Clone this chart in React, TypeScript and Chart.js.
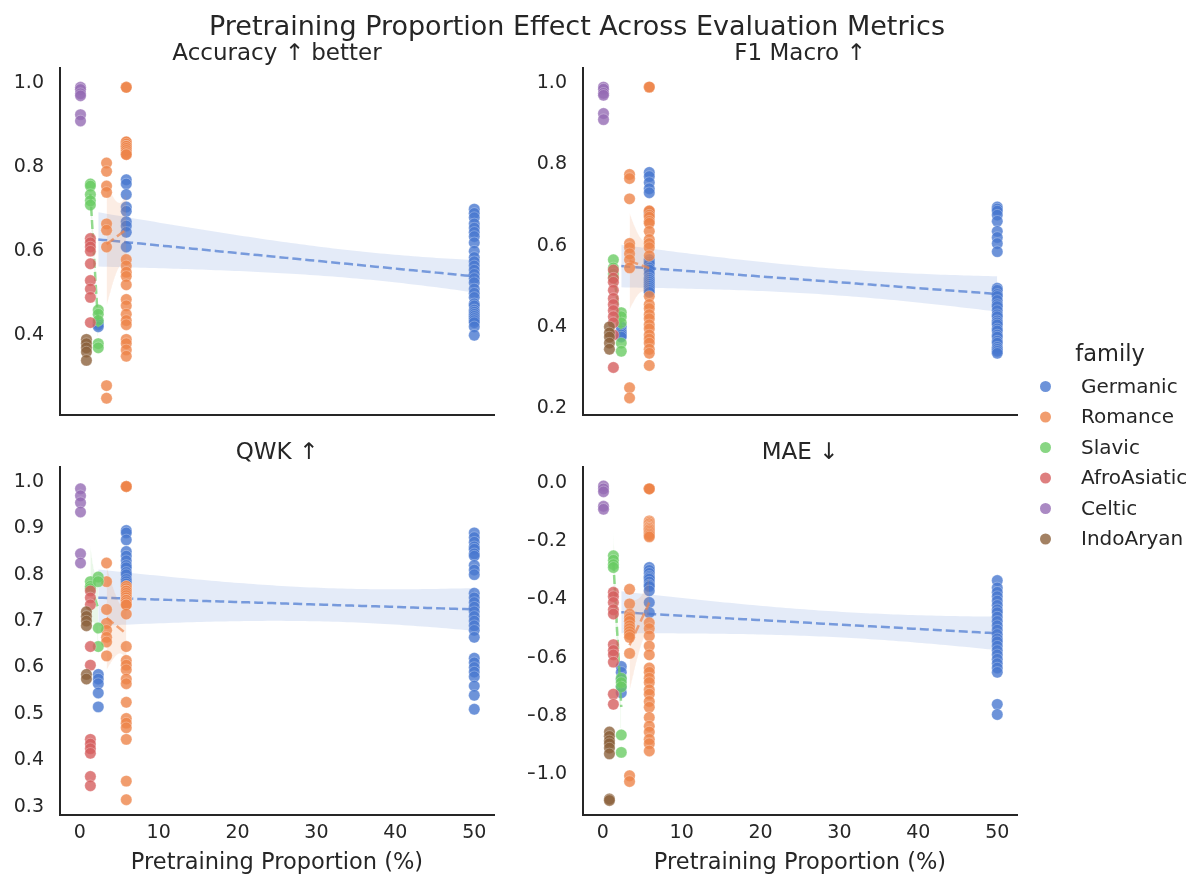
import React, { useEffect, useRef } from "react";
import { Chart, registerables } from "chart.js";

Chart.register(...registerables);

const W = 1197;
const H = 877;
const FONT = "'DejaVu Sans', 'Liberation Sans', sans-serif";
const INK = "#262626";

// ---------------- data ----------------
const families = ["Germanic", "Romance", "Slavic", "AfroAsiatic", "Celtic", "IndoAryan"];
const familyColors = ["#4878d0", "#ee854a", "#6acc64", "#d65f5f", "#956cb4", "#8c613c"];

// pretraining proportion (%) of each group of points, per family
const pctGermanic = [2.35, 5.9, 50];
const pctRomance = [3.4, 5.9];
const pctSlavic = [1.35, 2.35];
const pctAfroAsiatic = [1.35];
const pctCeltic = [0.1];
const pctIndoAryan = [0.85];

const xTicks = [0, 10, 20, 30, 40, 50];
const accTicks = [0.4, 0.6, 0.8, 1.0];
const f1Ticks = [0.2, 0.4, 0.6, 0.8, 1.0];
const qwkTicks = [0.3, 0.4, 0.5, 0.6, 0.7, 0.8, 0.9, 1.0];
const maeTicks = [-1.0, -0.8, -0.6, -0.4, -0.2, 0.0];

// Accuracy (one list of values per pretraining-proportion group)
const accGermanic = [
  [0.43, 0.425, 0.42],
  [0.77, 0.76, 0.735, 0.705, 0.695, 0.67, 0.66, 0.645, 0.61],
  [0.70, 0.69, 0.68, 0.665, 0.655, 0.645, 0.635, 0.62, 0.60, 0.585, 0.575, 0.565, 0.555, 0.545, 0.535, 0.525, 0.51, 0.50, 0.49, 0.475, 0.47, 0.46, 0.455, 0.45, 0.445, 0.44, 0.435, 0.43, 0.42, 0.40],
];
const accRomance = [
  [0.81, 0.79, 0.755, 0.74, 0.665, 0.65, 0.61, 0.28, 0.25],
  [0.99, 0.99, 0.86, 0.86, 0.855, 0.85, 0.85, 0.845, 0.84, 0.835, 0.83, 0.83, 0.58, 0.565, 0.55, 0.54, 0.52, 0.485, 0.47, 0.45, 0.435, 0.425, 0.39, 0.38, 0.365, 0.35],
];
const accSlavic = [
  [0.76, 0.755, 0.735, 0.72, 0.71],
  [0.46, 0.45, 0.435, 0.38, 0.37],
];
const accAfroAsiatic = [[0.63, 0.62, 0.61, 0.60, 0.57, 0.53, 0.51, 0.49, 0.43]];
const accCeltic = [[0.99, 0.985, 0.975, 0.97, 0.925, 0.91]];
const accIndoAryan = [[0.39, 0.38, 0.37, 0.36, 0.34]];

// F1 Macro
const f1Germanic = [
  [0.40, 0.39, 0.385, 0.38, 0.375],
  [0.78, 0.77, 0.755, 0.74, 0.73, 0.68, 0.565, 0.56, 0.555, 0.545, 0.54, 0.53, 0.52, 0.515, 0.51, 0.505, 0.50, 0.495, 0.49, 0.485],
  [0.695, 0.69, 0.685, 0.675, 0.66, 0.635, 0.62, 0.605, 0.585,
   0.495, 0.49, 0.48, 0.475, 0.465, 0.455, 0.45, 0.44, 0.43, 0.425, 0.415, 0.41, 0.405, 0.395, 0.39, 0.38, 0.375, 0.365, 0.36, 0.35, 0.345, 0.34, 0.335],
];
const f1Romance = [
  [0.775, 0.765, 0.715, 0.605, 0.595, 0.58, 0.565, 0.545, 0.25, 0.225],
  [0.99, 0.99, 0.685, 0.685, 0.675, 0.67, 0.66, 0.655, 0.635, 0.615, 0.605, 0.595, 0.575, 0.475, 0.455, 0.445, 0.43, 0.42, 0.405, 0.395, 0.38, 0.37, 0.36, 0.345, 0.335, 0.305],
];
const f1Slavic = [
  [0.565, 0.545, 0.53, 0.52],
  [0.435, 0.425, 0.41, 0.36, 0.34],
];
const f1AfroAsiatic = [[0.54, 0.52, 0.51, 0.49, 0.47, 0.455, 0.44, 0.425, 0.41, 0.38, 0.30]];
const f1Celtic = [[0.99, 0.985, 0.975, 0.97, 0.925, 0.91]];
const f1IndoAryan = [[0.40, 0.385, 0.375, 0.36, 0.345]];

// QWK
const qwkGermanic = [
  [0.585, 0.575, 0.565, 0.545, 0.515],
  [0.895, 0.89, 0.875, 0.85, 0.84, 0.83, 0.82, 0.815, 0.805, 0.80, 0.79, 0.785, 0.78],
  [0.89, 0.88, 0.87, 0.86, 0.855, 0.845, 0.84, 0.82, 0.81, 0.80, 0.76, 0.75, 0.74, 0.73, 0.72, 0.71, 0.70, 0.69, 0.68, 0.665, 0.62, 0.61, 0.60, 0.59, 0.58, 0.56, 0.54, 0.51],
];
const qwkRomance = [
  [0.825, 0.785, 0.725, 0.695, 0.68, 0.665, 0.655, 0.625],
  [0.99, 0.99, 0.99, 0.775, 0.775, 0.77, 0.765, 0.765, 0.76, 0.755, 0.75, 0.745, 0.745, 0.74, 0.735, 0.735, 0.715, 0.645, 0.615, 0.605, 0.595, 0.575, 0.565, 0.525, 0.49, 0.48, 0.47, 0.445, 0.355, 0.315],
];
const qwkSlavic = [
  [0.785, 0.775, 0.77],
  [0.795, 0.785, 0.685, 0.645],
];
const qwkAfroAsiatic = [[0.765, 0.75, 0.735, 0.645, 0.605, 0.445, 0.435, 0.425, 0.415, 0.365, 0.345]];
const qwkCeltic = [[0.985, 0.97, 0.955, 0.935, 0.845, 0.825]];
const qwkIndoAryan = [[0.72, 0.71, 0.70, 0.69, 0.585, 0.575]];

// MAE
const maeGermanic = [
  [-0.63, -0.65, -0.675, -0.70, -0.72],
  [-0.29, -0.30, -0.31, -0.32, -0.325, -0.33, -0.34, -0.35, -0.355, -0.37, -0.41, -0.445],
  [-0.335, -0.36, -0.375, -0.39, -0.405, -0.42, -0.435, -0.445, -0.46, -0.475, -0.49, -0.505, -0.52, -0.535, -0.545, -0.56, -0.575, -0.59, -0.605, -0.62, -0.635, -0.65, -0.76, -0.795],
];
const maeRomance = [
  [-0.365, -0.415, -0.45, -0.46, -0.465, -0.475, -0.49, -0.50, -0.51, -0.52, -0.53, -0.585, -1.005, -1.025],
  [-0.02, -0.02, -0.02, -0.02, -0.13, -0.135, -0.14, -0.14, -0.145, -0.15, -0.15, -0.155, -0.155, -0.16, -0.16, -0.165, -0.17, -0.175, -0.18, -0.185,
   -0.48, -0.50, -0.525, -0.56, -0.59, -0.635, -0.65, -0.67, -0.685, -0.71, -0.725, -0.75, -0.77, -0.805, -0.835, -0.855, -0.88, -0.895, -0.92],
];
const maeSlavic = [
  [-0.25, -0.265, -0.28, -0.29],
  [-0.67, -0.685, -0.70, -0.865, -0.925],
];
const maeAfroAsiatic = [[-0.375, -0.39, -0.41, -0.435, -0.45, -0.555, -0.575, -0.59, -0.615, -0.725, -0.76]];
const maeCeltic = [[-0.01, -0.02, -0.03, -0.08, -0.09]];
const maeIndoAryan = [[-0.855, -0.87, -0.885, -0.895, -0.91, -0.93, -1.085, -1.09]];

const familyPct = [pctGermanic, pctRomance, pctSlavic, pctAfroAsiatic, pctCeltic, pctIndoAryan];

// ---------------- helpers ----------------
function rgba(hex: string, a: number) {
  const n = parseInt(hex.slice(1), 16);
  return `rgba(${(n >> 16) & 255},${(n >> 8) & 255},${n & 255},${a})`;
}

const tTable = [12.71, 4.3, 3.18, 2.78, 2.57, 2.45, 2.36, 2.31, 2.26, 2.23];
function tcrit(df: number) {
  if (df <= 0) return 0;
  if (df <= 10) return tTable[df - 1];
  return 1.96 + 2.4 / df;
}

function regress(pts: { x: number; y: number }[]) {
  const n = pts.length;
  const mx = pts.reduce((s, p) => s + p.x, 0) / n;
  const my = pts.reduce((s, p) => s + p.y, 0) / n;
  let sxx = 0, sxy = 0;
  pts.forEach((p) => { sxx += (p.x - mx) ** 2; sxy += (p.x - mx) * (p.y - my); });
  const b = sxy / sxx;
  const a = my - b * mx;
  let sse = 0;
  pts.forEach((p) => { sse += (p.y - a - b * p.x) ** 2; });
  const df = n - 2;
  const s2 = sse / df;
  const t = tcrit(df);
  const xs = pts.map((p) => p.x);
  const x0 = Math.min(...xs), x1 = Math.max(...xs);
  const line: any[] = [], upper: any[] = [], lower: any[] = [];
  const N = 80;
  for (let i = 0; i <= N; i++) {
    const x = x0 + ((x1 - x0) * i) / N;
    const yh = a + b * x;
    const se = Math.sqrt(s2 * (1 / n + (x - mx) ** 2 / sxx));
    line.push({ x, y: yh });
    upper.push({ x, y: yh + t * se });
    lower.push({ x, y: yh - t * se });
  }
  return { line, upper, lower };
}

function fmt(v: number) {
  const s = Math.abs(v) < 1e-9 ? "0.0" : v.toFixed(1);
  return s.replace("-", "\u2212");
}

type Area = { l: number; r: number; t: number; b: number };
type PanelCfg = {
  title: string;
  yMin: number;
  yMax: number;
  yTicks: number[];
  area: Area;
  showX: boolean;
  groups: number[][][];
  figureText?: boolean;
};

const panels: PanelCfg[] = [
  { title: "Accuracy \u2191 better", yMin: 0.21, yMax: 1.036, yTicks: accTicks, area: { l: 60, r: 494, t: 68, b: 415 }, showX: false,
    groups: [accGermanic, accRomance, accSlavic, accAfroAsiatic, accCeltic, accIndoAryan] },
  { title: "F1 Macro \u2191", yMin: 0.183, yMax: 1.037, yTicks: f1Ticks, area: { l: 583, r: 1017, t: 68, b: 415 }, showX: false,
    groups: [f1Germanic, f1Romance, f1Slavic, f1AfroAsiatic, f1Celtic, f1IndoAryan], figureText: true },
  { title: "QWK \u2191", yMin: 0.282, yMax: 1.032, yTicks: qwkTicks, area: { l: 60, r: 494, t: 467, b: 815 }, showX: true,
    groups: [qwkGermanic, qwkRomance, qwkSlavic, qwkAfroAsiatic, qwkCeltic, qwkIndoAryan] },
  { title: "MAE \u2193", yMin: -1.14, yMax: 0.055, yTicks: maeTicks, area: { l: 583, r: 1017, t: 467, b: 815 }, showX: true,
    groups: [maeGermanic, maeRomance, maeSlavic, maeAfroAsiatic, maeCeltic, maeIndoAryan] },
];

function buildDatasets(cfg: PanelCfg) {
  const seq: any[] = [];
  families.forEach((fam, fi) => {
    const color = familyColors[fi];
    const pcts = familyPct[fi];
    const pts: { x: number; y: number }[] = [];
    cfg.groups[fi].forEach((ys, gi) => ys.forEach((y) => pts.push({ x: pcts[gi], y })));
    seq.push({
      type: "scatter",
      label: fam,
      data: pts,
      pointRadius: 5.7,
      pointHoverRadius: 5.7,
      backgroundColor: rgba(color, 0.8),
      borderColor: "rgba(255,255,255,0.35)",
      borderWidth: 0.8,
    });
    if (pcts.length >= 2) {
      const { line, upper, lower } = regress(pts);
      seq.push({ type: "line", label: fam + " ci", data: upper, showLine: true, fill: "+1", backgroundColor: rgba(color, 0.15), borderWidth: 0, pointRadius: 0 });
      seq.push({ type: "line", label: fam + " ci2", data: lower, showLine: true, fill: false, borderWidth: 0, pointRadius: 0 });
      seq.push({ type: "line", label: fam + " fit", data: line, showLine: true, fill: false, borderColor: rgba(color, 0.7), borderWidth: 2.5, borderDash: [9, 4], pointRadius: 0 });
    }
  });
  seq.forEach((d, i) => { d.order = 1000 - i; });
  return seq;
}

const titlePlugin = (cfg: PanelCfg) => ({
  id: "panelTitle",
  afterDraw(chart: any) {
    const ctx = chart.ctx;
    const ca = chart.chartArea;
    ctx.save();
    ctx.fillStyle = INK;
    ctx.font = `23px ${FONT}`;
    ctx.textAlign = "center";
    ctx.textBaseline = "alphabetic";
    ctx.fillText(cfg.title, (ca.left + ca.right) / 2, ca.top - 8);
    if (cfg.figureText) {
      ctx.font = `27px ${FONT}`;
      ctx.fillText("Pretraining Proportion Effect Across Evaluation Metrics", 577, 35);
      // legend
      ctx.font = `22.5px ${FONT}`;
      ctx.fillText("family", 1110, 361);
      ctx.font = `20px ${FONT}`;
      ctx.textAlign = "left";
      ctx.textBaseline = "middle";
      families.forEach((fam, i) => {
        const y = 386.5 + i * 30.5;
        ctx.beginPath();
        ctx.arc(1045.5, y, 5.5, 0, Math.PI * 2);
        ctx.fillStyle = rgba(familyColors[i], 0.8);
        ctx.fill();
        ctx.fillStyle = INK;
        ctx.fillText(fam, 1081, y + 1);
      });
    }
    ctx.restore();
  },
});

function Panel({ cfg }: { cfg: PanelCfg }) {
  const ref = useRef<HTMLCanvasElement>(null);
  useEffect(() => {
    if (!ref.current) return;
    const yAxisW = 55;
    const xAxisH = cfg.showX ? 62 : 0;
    const chart = new Chart(ref.current, {
      type: "scatter",
      data: { datasets: buildDatasets(cfg) },
      plugins: [titlePlugin(cfg)],
      options: {
        animation: false,
        responsive: false,
        events: [],
        layout: {
          autoPadding: false,
          padding: {
            left: cfg.area.l - yAxisW,
            right: W - cfg.area.r,
            top: cfg.area.t,
            bottom: H - cfg.area.b - xAxisH,
          },
        },
        plugins: {
          legend: { display: false },
          tooltip: { enabled: false },
          title: { display: false },
        },
        scales: {
          x: {
            type: "linear",
            min: -2.5,
            max: 52.5,
            afterBuildTicks: (s: any) => { s.ticks = xTicks.map((v) => ({ value: v })); },
            afterFit: (s: any) => { s.height = xAxisH; },
            grid: { display: false, drawTicks: false },
            border: { display: true, color: INK, width: 2 },
            ticks: {
              display: cfg.showX,
              padding: 7,
              color: INK,
              font: { family: FONT, size: 19 },
              maxRotation: 0,
              autoSkip: false,
              callback: (v: any) => String(v),
            },
            title: {
              display: cfg.showX,
              text: "Pretraining Proportion (%)",
              color: INK,
              font: { family: FONT, size: 22.5 },
              padding: { top: 0, bottom: 0 },
            },
          },
          y: {
            type: "linear",
            min: cfg.yMin,
            max: cfg.yMax,
            afterBuildTicks: (s: any) => { s.ticks = cfg.yTicks.map((v) => ({ value: v })); },
            afterFit: (s: any) => { s.width = yAxisW; },
            grid: { display: false, drawTicks: false },
            border: { display: true, color: INK, width: 2 },
            ticks: {
              padding: 16,
              color: INK,
              font: { family: FONT, size: 19 },
              autoSkip: false,
              callback: (v: any) => fmt(Number(v)),
            },
          },
        },
      } as any,
    });
    return () => chart.destroy();
  }, []);
  return (
    <canvas
      ref={ref}
      width={W}
      height={H}
      style={{ position: "absolute", left: 0, top: 0, width: W, height: H }}
    />
  );
}

export default function App() {
  return (
    <div style={{ position: "absolute", left: 0, top: 0, width: W, height: H, background: "#fff", overflow: "hidden" }}>
      {panels.map((p, i) => (
        <Panel key={i} cfg={p} />
      ))}
    </div>
  );
}
